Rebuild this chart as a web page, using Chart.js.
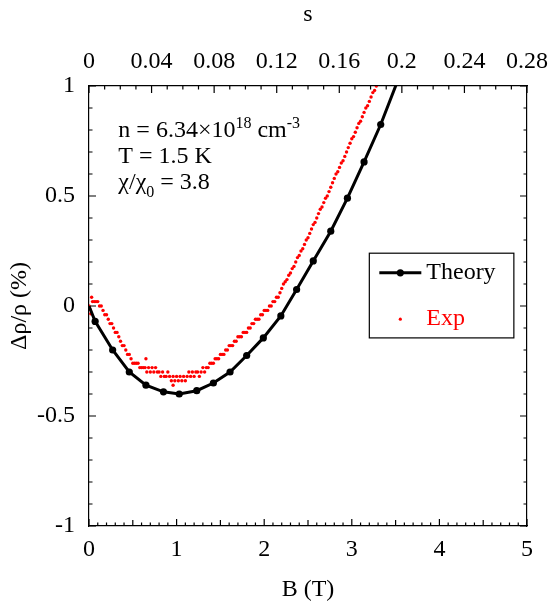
<!DOCTYPE html>
<html>
<head>
<meta charset="utf-8">
<script src="https://cdn.jsdelivr.net/npm/chart.js@4.4.0/dist/chart.umd.min.js"></script>
<style>
  html, body { margin: 0; padding: 0; background: #fff; }
</style>
</head>
<body>
<canvas id="myChart" width="552" height="604"></canvas>
<script>
// Theory curve: B (T) vs delta rho / rho (%)
const theoryB = [0, 0.07, 0.27, 0.46, 0.65, 0.85, 1.03, 1.23, 1.42, 1.61, 1.80, 1.99, 2.19, 2.37, 2.56, 2.76, 2.95, 3.14, 3.33, 3.52]
const theoryY = [0, -0.07, -0.20, -0.30, -0.36, -0.39, -0.40, -0.385, -0.35, -0.30, -0.225, -0.145, -0.045, 0.075, 0.205, 0.34, 0.49, 0.655, 0.825, 1.02]

// Experimental points
const expB = [
    0.00, 0.01, 0.02, 0.03, 0.04, 0.06, 0.08, 0.10, 0.12, 0.14, 0.16, 0.18, 0.20, 0.22, 0.24, 0.26, 0.28, 0.30, 0.32, 0.34,
    0.36, 0.38, 0.40, 0.42, 0.44, 0.46, 0.48, 0.50, 0.52, 0.54, 0.56, 0.58, 0.60, 0.62, 0.64, 0.65, 0.66, 0.68, 0.70, 0.72,
    0.74, 0.76, 0.78, 0.80, 0.82, 0.84, 0.86, 0.88, 0.90, 0.92, 0.94, 0.96, 0.96, 0.98, 1.00, 1.02, 1.04, 1.06, 1.08, 1.10,
    1.12, 1.14, 1.16, 1.18, 1.20, 1.22, 1.24, 1.26, 1.28, 1.30, 1.32, 1.34, 1.36, 1.38, 1.40, 1.42, 1.44, 1.46, 1.48, 1.50,
    1.52, 1.54, 1.56, 1.58, 1.60, 1.62, 1.64, 1.66, 1.68, 1.70, 1.72, 1.74, 1.76, 1.78, 1.80, 1.82, 1.84, 1.86, 1.88, 1.90,
    1.92, 1.94, 1.96, 1.98, 2.00, 2.02, 2.04, 2.06, 2.08, 2.10, 2.12, 2.14, 2.16, 2.18, 2.20, 2.22, 2.24, 2.26, 2.28, 2.30,
    2.32, 2.34, 2.36, 2.38, 2.40, 2.42, 2.44, 2.46, 2.48, 2.50, 2.52, 2.54, 2.56, 2.58, 2.60, 2.62, 2.64, 2.66, 2.68, 2.70,
    2.72, 2.74, 2.76, 2.78, 2.80, 2.82, 2.84, 2.86, 2.88, 2.90, 2.92, 2.94, 2.96, 2.98, 3.00, 3.02, 3.04, 3.06, 3.08, 3.10,
    3.12, 3.14, 3.16, 3.18, 3.20, 3.22, 3.24, 3.26, 3.28
]
const expY = [
    0.00, -0.015, -0.035, 0.04, 0.02, 0.02, 0.02, 0.02, 0.00, 0.00, -0.02, -0.04, -0.04, -0.06, -0.08, -0.08, -0.10, -0.12, -0.12, -0.14,
    -0.16, -0.18, -0.18, -0.20, -0.22, -0.22, -0.24, -0.26, -0.26, -0.26, -0.26, -0.28, -0.28, -0.28, -0.28, -0.24, -0.30, -0.28, -0.30, -0.28,
    -0.30, -0.28, -0.30, -0.30, -0.32, -0.30, -0.32, -0.32, -0.30, -0.32, -0.34, -0.32, -0.36, -0.34, -0.32, -0.34, -0.32, -0.34, -0.32, -0.34,
    -0.32, -0.30, -0.32, -0.30, -0.32, -0.30, -0.30, -0.32, -0.30, -0.28, -0.30, -0.28, -0.28, -0.26, -0.26, -0.26, -0.24, -0.24, -0.24, -0.22,
    -0.22, -0.22, -0.20, -0.20, -0.18, -0.18, -0.18, -0.16, -0.16, -0.14, -0.14, -0.14, -0.12, -0.12, -0.12, -0.10, -0.10, -0.08, -0.08, -0.06,
    -0.06, -0.06, -0.04, -0.04, -0.02, -0.02, -0.02, 0.00, 0.00, 0.02, 0.02, 0.04, 0.04, 0.06, 0.08, 0.10, 0.11, 0.12, 0.14, 0.15,
    0.17, 0.18, 0.20, 0.22, 0.23, 0.25, 0.26, 0.28, 0.30, 0.31, 0.33, 0.35, 0.37, 0.38, 0.40, 0.42, 0.44, 0.45, 0.47, 0.49,
    0.50, 0.52, 0.54, 0.56, 0.58, 0.60, 0.61, 0.63, 0.65, 0.66, 0.68, 0.70, 0.72, 0.74, 0.76, 0.77, 0.79, 0.81, 0.83, 0.84,
    0.86, 0.88, 0.90, 0.91, 0.93, 0.95, 0.97, 0.98, 1.00
]

// Tick labels
const bTicks = [0, 1, 2, 3, 4, 5]
const sTicks = [0, 0.04, 0.08, 0.12, 0.16, 0.2, 0.24, 0.28]
const yTicks = [-1, -0.5, 0, 0.5, 1]

const FONT = '"Liberation Serif", "Times New Roman", serif'
Chart.defaults.font.family = FONT
Chart.defaults.font.size = 24
Chart.defaults.color = '#000'

// inward tick marks on all four sides
const tickMarks = {
    id: 'tickMarks',
    beforeDatasetsDraw(chart) {
        const { ctx, chartArea: a, scales } = chart
        ctx.save()
        ctx.strokeStyle = '#000'
        ctx.lineWidth = 1.2
        ctx.beginPath()
        for (let i = 0; i <= 50; i++) {
            const px = scales.x.getPixelForValue(i / 10)
            const len = i % 10 === 0 ? 7 : (i % 5 === 0 ? 6 : 3.5)
            ctx.moveTo(px, a.bottom); ctx.lineTo(px, a.bottom - len)
        }
        for (let i = 0; i <= 28; i++) {
            const px = scales.x2.getPixelForValue(i / 100)
            const len = i % 4 === 0 ? 7 : 3.5
            ctx.moveTo(px, a.top); ctx.lineTo(px, a.top + len)
        }
        for (let i = -10; i <= 10; i++) {
            const py = scales.y.getPixelForValue(i / 10)
            const len = i % 5 === 0 ? 7 : 3.5
            ctx.moveTo(a.left, py); ctx.lineTo(a.left + len, py)
            ctx.moveTo(a.right, py); ctx.lineTo(a.right - len, py)
        }
        ctx.stroke()
        ctx.restore()
    }
}

// text with sub/superscripts
function drawRich(ctx, x, y, parts) {
    parts.forEach(([t, size, dy]) => {
        ctx.font = size + 'px ' + FONT
        ctx.fillText(t, x, y + dy)
        x += ctx.measureText(t).width
    })
}

const annotation = {
    id: 'annotation',
    afterDraw(chart) {
        const { ctx, scales: { x, y } } = chart
        ctx.save()
        ctx.fillStyle = '#000'
        ctx.textBaseline = 'alphabetic'
        const left = x.getPixelForValue(0.335)
        drawRich(ctx, left, y.getPixelForValue(0.77), [['n = 6.34×10', 24, 0], ['18', 16, -9], [' cm', 24, 0], ['-3', 16, -9]])
        drawRich(ctx, left, y.getPixelForValue(0.648), [['T = 1.5 K', 24, 0]])
        drawRich(ctx, left, y.getPixelForValue(0.53), [['χ/χ', 24, 0], ['0', 16, 8], [' = 3.8', 24, 0]])
        ctx.restore()
    }
}

// boxed legend inside the plot
const boxLegend = {
    id: 'boxLegend',
    afterDraw(chart) {
        const { ctx, scales: { x, y } } = chart
        const l = x.getPixelForValue(3.2), r = x.getPixelForValue(4.85)
        const t = y.getPixelForValue(0.24), b = y.getPixelForValue(-0.145)
        ctx.save()
        ctx.fillStyle = '#fff'
        ctx.fillRect(l, t, r - l, b - t)
        ctx.strokeStyle = '#000'
        ctx.lineWidth = 1.2
        ctx.strokeRect(l, t, r - l, b - t)
        const ds = chart.data.datasets
        const rows = [y.getPixelForValue(0.151), y.getPixelForValue(-0.06)]
        // Theory
        ctx.strokeStyle = ds[0].borderColor
        ctx.lineWidth = ds[0].borderWidth
        ctx.beginPath(); ctx.moveTo(l + 10, rows[0]); ctx.lineTo(l + 52, rows[0]); ctx.stroke()
        ctx.fillStyle = ds[0].backgroundColor
        ctx.beginPath(); ctx.arc(l + 31, rows[0], 3.6, 0, Math.PI * 2); ctx.fill()
        // Exp
        ctx.fillStyle = ds[1].backgroundColor
        ctx.beginPath(); ctx.arc(l + 31, rows[1], 1.6, 0, Math.PI * 2); ctx.fill()
        ctx.font = '24px ' + FONT
        ctx.textBaseline = 'middle'
        ctx.fillStyle = '#000'
        ctx.fillText(ds[0].label, l + 57, rows[0])
        ctx.fillStyle = '#f00'
        ctx.fillText(ds[1].label, l + 57, rows[1])
        ctx.restore()
    }
}

const noPad = s => { s.paddingLeft = 0; s.paddingRight = 0; s.paddingTop = 0; s.paddingBottom = 0 }
const border = { display: true, color: '#000', width: 1.2 }

const config = {
    type: 'scatter',
    data: {
        datasets: [{
            label: 'Theory',
            data: theoryB.map((b, i) => ({ x: b, y: theoryY[i] })),
            showLine: true,
            borderColor: '#000',
            backgroundColor: '#000',
            borderWidth: 3,
            pointRadius: c => c.dataIndex === 0 ? 0 : 3.6,
            pointBorderWidth: 0,
            clip: 0
        }, {
            label: 'Exp',
            data: expB.map((b, i) => ({ x: b, y: expY[i] })),
            showLine: false,
            borderColor: '#f00',
            backgroundColor: '#f00',
            pointRadius: 1.7,
            pointBorderWidth: 0,
            clip: 0
        }]
    },
    options: {
        responsive: false,
        animation: false,
        layout: { padding: 0 },
        plugins: { legend: { display: false }, tooltip: { enabled: false } },
        scales: {
            x: {
                type: 'linear', position: 'bottom', min: 0, max: 5,
                afterBuildTicks: s => { s.ticks = bTicks.map(v => ({ value: v })) },
                afterFit: s => { s.height = 78; noPad(s) },
                grid: { display: false, drawTicks: false },
                border: border,
                ticks: { padding: 9, maxRotation: 0, autoSkip: false },
                title: { display: true, text: 'B (T)', padding: { top: 0, bottom: 0 } }
            },
            x2: {
                type: 'linear', position: 'top', min: 0, max: 0.28,
                afterBuildTicks: s => { s.ticks = sTicks.map(v => ({ value: v })) },
                afterFit: s => { s.height = 86; noPad(s) },
                grid: { display: false, drawTicks: false },
                border: border,
                ticks: { padding: 10, maxRotation: 0, autoSkip: false, callback: v => String(+v.toFixed(2)) },
                title: { display: true, text: 's', padding: { top: 0, bottom: 0 } }
            },
            y: {
                type: 'linear', position: 'left', min: -1, max: 1,
                afterBuildTicks: s => { s.ticks = yTicks.map(v => ({ value: v })) },
                afterFit: s => { s.width = 89; noPad(s) },
                grid: { display: false, drawTicks: false },
                border: border,
                ticks: { padding: 14, autoSkip: false, callback: v => String(v) },
                title: { display: true, text: 'Δρ/ρ (%)', padding: { top: 5, bottom: 0 } }
            },
            y2: {
                type: 'linear', position: 'right', min: -1, max: 1,
                afterFit: s => { s.width = 25; noPad(s) },
                grid: { display: false, drawTicks: false },
                border: border,
                ticks: { display: false }
            }
        }
    },
    plugins: [tickMarks, annotation, boxLegend]
}

const ctx = document.getElementById('myChart').getContext('2d')
new Chart(ctx, config)
</script>
</body>
</html>
